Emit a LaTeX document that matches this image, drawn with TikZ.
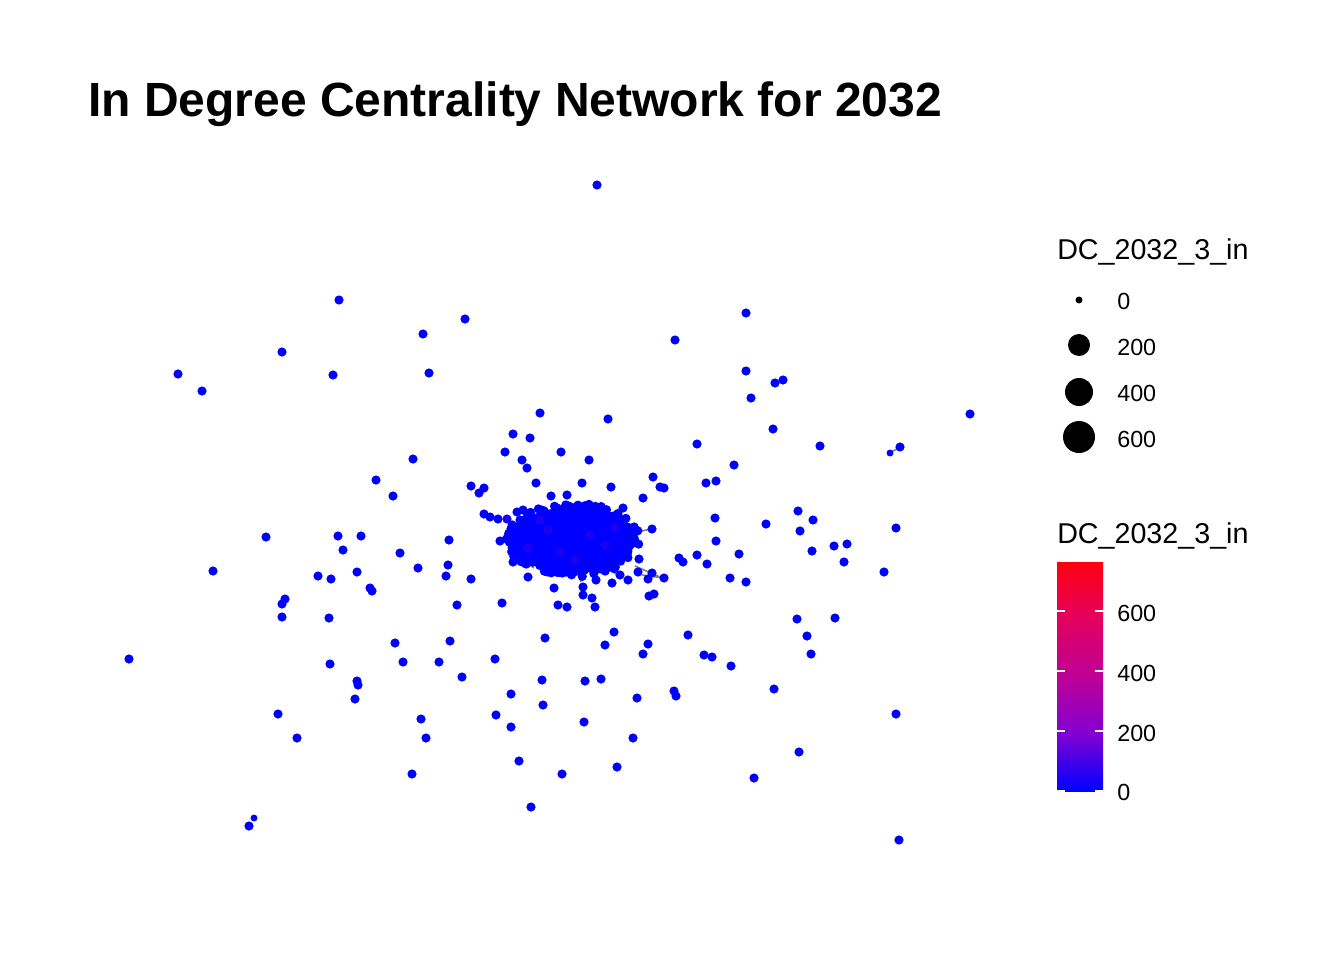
\documentclass[tikz,border=0pt]{standalone}
\usepackage{fontspec}
\setmainfont{Liberation Sans}
\definecolor{nb}{RGB}{0,0,255}
\definecolor{np}{RGB}{28,0,240}
\definecolor{c0}{RGB}{0,0,255}
\definecolor{c1}{RGB}{130,0,210}
\definecolor{c2}{RGB}{190,0,150}
\definecolor{c3}{RGB}{228,0,95}
\definecolor{c4}{RGB}{255,0,15}
\pgfdeclareverticalshading{cbar}{100bp}{color(0bp)=(c0); color(25bp)=(c0); color(37.5bp)=(c1); color(50bp)=(c2); color(62.5bp)=(c3); color(75bp)=(c4); color(100bp)=(c4)}
\begin{document}
\begin{tikzpicture}[x=0.75pt,y=-0.75pt,
  dot/.style={circle,fill=nb,inner sep=0pt,minimum size=6.9pt},
  sdot/.style={circle,fill=nb,inner sep=0pt,minimum size=5.2pt},
  pdot/.style={circle,fill=np,inner sep=0pt,minimum size=6.9pt},
  edge/.style={draw=gray,line width=1.2pt},
  ltitle/.style={font=\fontsize{21.5}{24}\selectfont,anchor=base west,inner sep=0pt},
  llab/.style={font=\fontsize{17.5}{20}\selectfont,anchor=base west,inner sep=0pt},
  tick/.style={draw=white,line width=1pt},
  kdot/.style={circle,fill=black,inner sep=0pt}]
\useasboundingbox (0,0) rectangle (1344,960);
\fill[white] (0,0) rectangle (1344,960);
% title
\node[anchor=base west,inner sep=0pt,font=\fontsize{36}{40}\selectfont\bfseries] (title) at (88,116) {In Degree Centrality Network for 2032};
% edges (beneath points)
\coordinate (e1a) at (652,529); \coordinate (e1b) at (636,532);
\coordinate (e2a) at (890,453); \coordinate (e2b) at (900,447);
\coordinate (e3a) at (635,566); \coordinate (e3b) at (660,577);
\coordinate (e4a) at (610,571); \coordinate (e4b) at (623,577);
\coordinate (e5a) at (527,563); \coordinate (e5b) at (534,568);
\coordinate (e6a) at (578,574); \coordinate (e6b) at (581,582);
\coordinate (e7a) at (642,575); \coordinate (e7b) at (664,578);
\foreach \a in {1,...,7}{\draw[edge] (e\a a) -- (e\a b);}
% central cluster
\fill[nb] (573,540) ellipse [x radius=62, y radius=33];
\pgfmathsetseed{7}
\foreach \i in {1,...,460}{
  \pgfmathsetmacro\rad{sqrt(rnd)}
  \pgfmathsetmacro\ang{360*rnd}
  \fill[nb] ({573+67*\rad*cos(\ang)},{540+37*\rad*sin(\ang)}) circle[radius=3.45pt];
}
\foreach \x/\y in {528/548,560/552,590/535,548/530,605/545,575/560,540/520,615/528}{
  \fill[np] (\x,\y) circle[radius=3.45pt];
}
% scattered points
\foreach \x/\y [count=\n] in {597/185,339/300,746/313,465/319,423/334,675/340,282/352,178/374,333/375,429/373,
746/371,775/383,783/380,202/391,751/398,970/414,540/413,608/419,773/429,513/434,
530/438,697/444,820/446,900/447,505/452,561/452,413/459,522/460,589/460,734/465,
527/468,653/477,376/480,706/483,716/481,536/483,582/483,471/486,484/488,479/493,
611/487,660/487,664/488,393/496,643/498,551/496,567/495,623/508,484/514,490/517,
498/519,517/512,523/510,715/518,798/511,766/524,813/520,652/529,800/531,896/528,
266/537,338/536,361/536,449/540,500/541,716/541,343/550,834/546,847/544,812/551,
739/554,400/553,844/562,697/555,679/558,683/562,707/564,639/559,418/568,448/565,
446/576,213/571,357/572,318/576,331/579,471/579,513/562,528/577,554/588,884/572,
730/578,746/582,638/572,620/575,628/580,652/573,648/579,664/578,612/583,596/580,
583/587,583/595,592/598,595/607,649/596,654/594,370/588,372/591,285/599,282/604,
282/617,329/618,457/605,502/603,558/605,567/607,797/619,835/618,614/632,688/635,
807/636,545/638,395/643,450/641,605/645,648/644,643/654,811/654,129/659,403/662,
439/662,495/659,330/664,704/655,712/657,731/666,462/677,542/680,585/681,601/679,
357/681,358/685,774/689,511/694,674/691,676/696,637/698,355/699,543/705,278/714,
421/719,496/715,584/722,511/727,896/714,297/738,426/738,633/738,799/752,519/761,
617/767,412/774,562/774,754/778,531/807,249/826,899/840}{
  \node[dot] (p\n) at (\x,\y) {};
}
\node[pdot] (pp1) at (507,519) {};
\node[sdot] (ps1) at (890,453) {};
\node[sdot] (ps2) at (254,818) {};
% size legend
\node[ltitle] (st) at (1057,259) {DC\_2032\_3\_in};
\node[kdot,minimum size=5.25pt] (s0) at (1079,300) {};
\node[kdot,minimum size=16.5pt] (s1) at (1079,345) {};
\node[kdot,minimum size=21pt] (s2) at (1079,392) {};
\node[kdot,minimum size=24pt] (s3) at (1079,437) {};
\node[llab] (l0) at (1117,309) {0};
\node[llab] (l1) at (1117,355) {200};
\node[llab] (l2) at (1117,401) {400};
\node[llab] (l3) at (1117,447) {600};
% colour legend
\node[ltitle] (ct) at (1057,543) {DC\_2032\_3\_in};
\shade[shading=cbar] (1057,562) rectangle (1103,791);
\foreach \t in {611,671,731,791}{
  \draw[tick] (1057,\t) -- (1065,\t);
  \draw[tick] (1095,\t) -- (1103,\t);
}
\node[llab] (c600) at (1117,621) {600};
\node[llab] (c400) at (1117,681) {400};
\node[llab] (c200) at (1117,741) {200};
\node[llab] (c0l) at (1117,800) {0};
\end{tikzpicture}
\end{document}
